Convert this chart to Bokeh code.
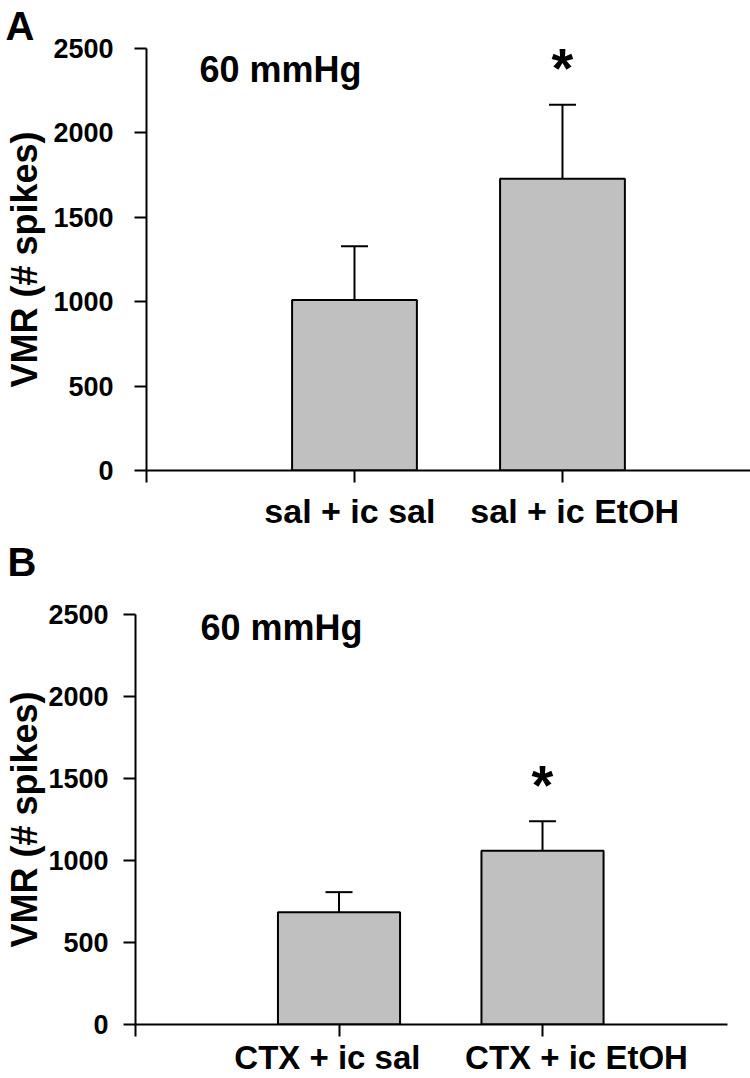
from bokeh.plotting import figure
from bokeh.models import (Whisker, TeeHead, ColumnDataSource, FixedTicker, Label,
                          Range1d, Title, LinearAxis)
from bokeh.embed import file_html
from bokeh.resources import INLINE

# ---- data ----
a_groups = ["sal + ic sal", "sal + ic EtOH"]
a_means = [1010, 1728]
a_sem = [318, 439]

b_groups = ["CTX + ic sal", "CTX + ic EtOH"]
b_means = [685, 1060]
b_sem = [122, 180]

y_ticks = [0, 500, 1000, 1500, 2000, 2500]
significance = ["", "*"]
pressure_text = "60 mmHg"
y_title = "VMR (# spikes)"

FONT = "Liberation Sans"
BAR_FILL = "#c0c0c0"


def letter_title(text, offset, standoff, valign="bottom"):
    return Title(text=text, align="left", offset=offset, standoff=standoff,
                 vertical_align=valign,
                 text_font=FONT, text_font_style="bold", text_font_size="40px",
                 text_line_height=1.0, text_color="black")


def make_panel(groups, means, sems, cfg):
    p = figure(width=cfg["w"], height=cfg["h"], output_backend="svg",
               toolbar_location=None, x_range=Range1d(0, cfg["x_end"]),
               y_range=Range1d(0, 2500),
               min_border_left=cfg["bl"], min_border_right=cfg["br"],
               min_border_top=cfg["bt"], min_border_bottom=cfg["bb"])
    p.outline_line_color = None
    p.grid.visible = False
    p.background_fill_color = "white"
    p.border_fill_color = "white"

    xs = [i + 1 for i in range(len(groups))]
    upper = [m + s for m, s in zip(means, sems)]
    src = ColumnDataSource(dict(x=xs, mean=means, upper=upper))

    p.vbar(x="x", top="mean", bottom=0, width=0.6, source=src,
           fill_color=BAR_FILL, line_color="black", line_width=2)
    w = Whisker(source=src, base="x", lower="mean", upper="upper",
                dimension="height", line_width=2, line_color="black",
                upper_head=TeeHead(size=27, line_width=2, line_color="black"),
                lower_head=None)
    p.add_layout(w)

    for ax in (p.xaxis[0], p.yaxis[0]):
        ax.axis_line_width = 2
        ax.axis_line_color = "black"
        ax.major_tick_line_width = 2
        ax.major_tick_line_color = "black"
        ax.major_tick_out = 12
        ax.major_tick_in = 0
        ax.minor_tick_line_color = None
        ax.major_label_text_font = FONT
        ax.major_label_text_font_style = "bold"
        ax.major_label_text_color = "black"

    p.yaxis.ticker = FixedTicker(ticks=y_ticks)
    p.yaxis.major_label_text_font_size = "27px"
    p.yaxis.major_label_standoff = cfg["tick_standoff"]
    p.yaxis.axis_label = y_title
    p.yaxis.axis_label_text_font = FONT
    p.yaxis.axis_label_text_font_style = "bold"
    p.yaxis.axis_label_text_font_size = "36px"
    p.yaxis.axis_label_text_color = "black"
    p.yaxis.axis_label_standoff = cfg["title_standoff"]

    # tick marks at the bars (and at the origin), no labels on this axis
    p.xaxis.ticker = FixedTicker(ticks=[0] + xs)
    p.xaxis.major_label_text_font_size = "0px"
    p.xaxis.major_label_standoff = 0
    p.xaxis.major_label_overrides = {t: "" for t in [0] + xs}

    # category names, set slightly off the bar centres as in the original
    lab_axis = LinearAxis(ticker=FixedTicker(ticks=cfg["label_pos"]),
                          major_label_overrides=dict(zip(cfg["label_pos"], groups)),
                          axis_line_color=None, major_tick_line_color=None,
                          minor_tick_line_color=None, major_tick_out=0,
                          major_tick_in=0, minor_tick_out=0,
                          major_label_standoff=cfg["x_standoff"],
                          major_label_text_font=FONT,
                          major_label_text_font_style="bold",
                          major_label_text_font_size=cfg["x_font"],
                          major_label_text_color="black")
    p.add_layout(lab_axis, "below")

    # significance stars
    for xv, up, s in zip(xs, upper, significance):
        if s:
            p.add_layout(Label(x=xv, y=up, text=s, y_offset=37,
                               text_align="center", text_baseline="middle",
                               text_font=FONT, text_font_style="bold",
                               text_font_size="56px", text_color="black"))

    p.add_layout(Label(x=cfg["press_xy"][0], y=cfg["press_xy"][1],
                       text=pressure_text,
                       text_align="left", text_baseline="alphabetic",
                       text_font=FONT, text_font_style="bold",
                       text_font_size="36px", text_color="black"))
    return p


cfg_a = dict(w=750, h=595, bl=146, br=0, bt=48, bb=125, x_end=2.904,
             press_xy=(0.255, 2376),
             tick_standoff=21, title_standoff=5, x_standoff=9,
             x_font="34px", label_pos=[0.978, 2.059])
cfg_b = dict(w=750, h=483, bl=135, br=23, bt=19, bb=51, x_end=2.909,
             press_xy=(0.319, 2420),
             tick_standoff=15, title_standoff=0, x_standoff=2,
             x_font="33px", label_pos=[0.943, 2.167])

pa = make_panel(a_groups, a_means, a_sem, cfg_a)
pb = make_panel(b_groups, b_means, b_sem, cfg_b)

# panel letters (the "B" sits in the space just below panel A's labels)
pa.add_layout(letter_title("A", -141, 0, "middle"), "above")
pa.add_layout(letter_title("B", -139, 10), "below")

open("out.html", "w").write(file_html([pa, pb], INLINE))
